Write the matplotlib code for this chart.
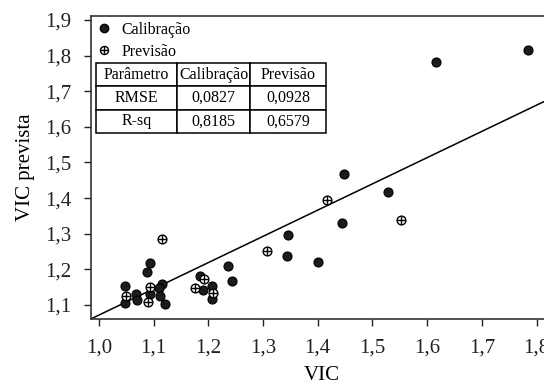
import numpy as np
import matplotlib
matplotlib.use('Agg')
import matplotlib.pyplot as plt
from matplotlib.lines import Line2D
from matplotlib.ticker import FuncFormatter

plt.rcParams['font.family'] = 'Liberation Serif'
plt.rcParams['font.size'] = 15

# calibration set (VIC measured, VIC predicted)
vic_cal = [1.047, 1.047, 1.067, 1.070, 1.093, 1.088, 1.093, 1.116, 1.110, 1.112,
           1.121, 1.185, 1.190, 1.207, 1.206, 1.236, 1.243, 1.346, 1.344, 1.400,
           1.444, 1.448, 1.529, 1.616, 1.784]
pred_cal = [1.153, 1.106, 1.131, 1.114, 1.219, 1.193, 1.131, 1.159, 1.147, 1.125,
            1.104, 1.182, 1.141, 1.153, 1.117, 1.208, 1.167, 1.296, 1.238, 1.222,
            1.329, 1.468, 1.418, 1.783, 1.816]

# prediction set
vic_prev = [1.049, 1.094, 1.090, 1.115, 1.175, 1.193, 1.208, 1.308, 1.416, 1.552]
pred_prev = [1.125, 1.150, 1.108, 1.285, 1.149, 1.172, 1.133, 1.252, 1.394, 1.339]

# fitted line
slope = 0.7366
intercept = 0.335

col_labels = ['Parâmetro', 'Calibração', 'Previsão']
row_rmse = ['RMSE', '0,0827', '0,0928']
row_rsq = ['R-sq', '0,8185', '0,6579']

fig = plt.figure(figsize=(5.44, 3.89), dpi=100)
ax = fig.add_axes([0.1667, 0.18, 0.8499, 0.7789])

ax.axline((0, intercept), slope=slope, color='black', lw=1.1, zorder=2)

ax.plot(vic_cal, pred_cal, 'o', ms=6.5, mfc='#1c1c1c', mec='black', mew=0.8, zorder=3)
ax.plot(vic_prev, pred_prev, 'o', ms=6.3, mfc='white', mec='black', mew=1.0, zorder=4)
ax.plot(vic_prev, pred_prev, '+', ms=6.3, color='black', mew=1.0, zorder=5)

ax.set_xlim(0.985, 1.83)
ax.set_ylim(1.0607, 1.911)
ax.set_xticks(np.arange(1.0, 1.85, 0.1))
ax.set_yticks(np.arange(1.1, 1.95, 0.1))
fmt = FuncFormatter(lambda v, p: f'{v:.1f}'.replace('.', ','))
ax.xaxis.set_major_formatter(fmt)
ax.yaxis.set_major_formatter(fmt)
ax.tick_params(direction='out', length=5, width=1, pad=9, labelsize=15, colors='#222')
for s in ax.spines.values():
    s.set_linewidth(1.2)
    s.set_color('#333')

ax.set_xlabel('VIC', fontsize=15, labelpad=6)
ax.set_ylabel('VIC prevista', fontsize=15, labelpad=7)

h_cal = Line2D([], [], ls='', marker='o', ms=6.0, mfc='#1c1c1c', mec='black')
h_prev_o = Line2D([], [], ls='', marker='o', ms=5.8, mfc='white', mec='black', mew=1.0)
h_prev_p = Line2D([], [], ls='', marker='+', ms=5.8, color='black', mew=1.0)
ax.legend([h_cal, (h_prev_o, h_prev_p)], ['Calibração', 'Previsão'],
          loc='upper left', frameon=False, fontsize=11.5, handlelength=1.0,
          handletextpad=0.6, borderaxespad=0.1, labelspacing=0.4, borderpad=0.25)

tab = ax.table(cellText=[row_rmse, row_rsq], colLabels=col_labels,
               colWidths=[0.352, 0.317, 0.330], cellLoc='center',
               bbox=[0.0115, 0.614, 0.4975, 0.231])
tab.auto_set_font_size(False)
tab.set_fontsize(11.5)
for cell in tab.get_celld().values():
    cell.set_linewidth(1.1)
    cell.set_edgecolor('black')
tab.set_zorder(6)

fig.savefig('out.png', dpi=100)
